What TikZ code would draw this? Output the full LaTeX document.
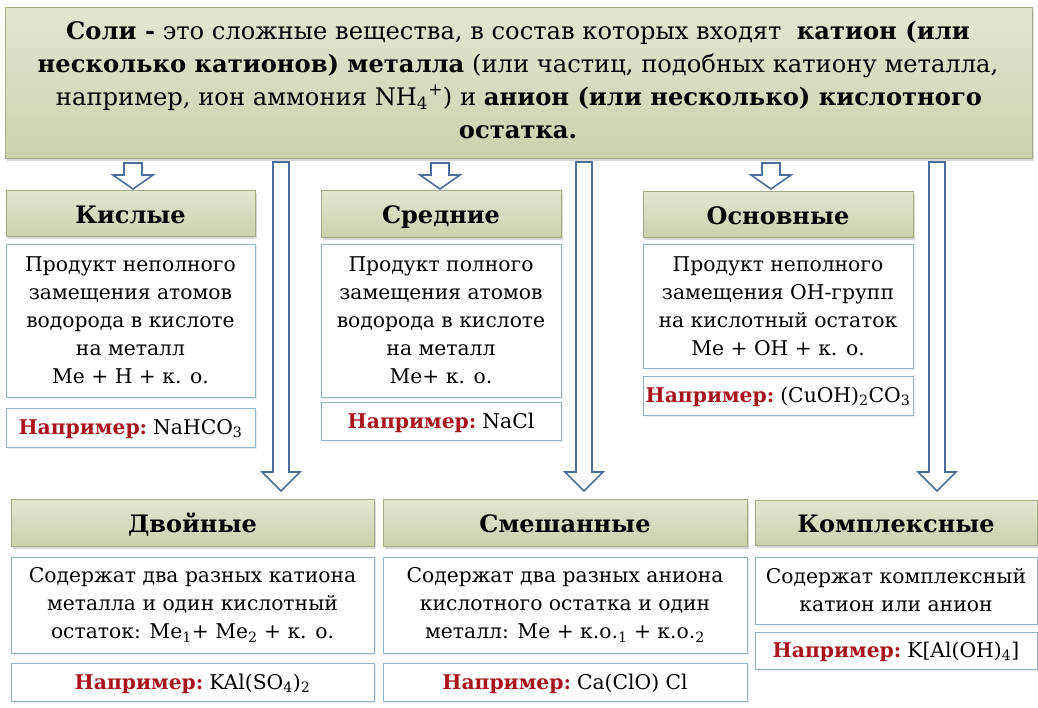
\documentclass[tikz,border=0pt]{standalone}
\usepackage{fontspec}
\setmainfont{DejaVu Serif}
\usetikzlibrary{shadows}
\definecolor{olTop}{HTML}{E2E6D0}
\definecolor{olBot}{HTML}{CBD2AD}
\definecolor{olLine}{HTML}{A2AC84}
\definecolor{bxLine}{HTML}{8FB5CA}
\definecolor{arLine}{HTML}{4E6C98}
\definecolor{exRed}{HTML}{A8141C}
\newcommand{\ex}[1]{{\bfseries\color{exRed}Например:}\hspace{6pt}#1}
\newcommand{\blockarr}[6]{%
  \draw[arrsty] ({#1-#4},#2) -- ({#1+#4},#2) -- ({#1+#4},{#3-#6}) -- ({#1+#5},{#3-#6})
   -- (#1,#3) -- ({#1-#5},{#3-#6}) -- ({#1-#4},{#3-#6}) -- cycle;}
\begin{document}
\begin{tikzpicture}[x=1pt,y=-1pt,
  shad/.style={drop shadow={opacity=0.3,shadow xshift=2pt,shadow yshift=-2.5pt}},
  topbox/.style={draw=olLine,line width=1pt,top color=olTop,bottom color=olBot,shad,
     minimum width=1027pt,minimum height=151pt,inner sep=0pt},
  hdr/.style={draw=olLine,line width=1pt,top color=olTop,bottom color=olBot,shad,
     inner sep=0pt,text height=21pt,text depth=1pt,font=\fontsize{24}{30}\selectfont\bfseries},
  desc/.style={draw=bxLine,line width=1pt,fill=white,
     drop shadow={opacity=0.15,shadow xshift=1.5pt,shadow yshift=-2pt},
     inner sep=0pt,align=center,font=\fontsize{20.3}{28}\selectfont},
  exbox/.style={desc,text height=16pt,text depth=2pt},
  tline/.style={anchor=base,inner sep=0pt,font=\fontsize{24.2}{33}\selectfont},
  arrsty/.style={draw=arLine,line width=1.6pt,fill=white,line join=miter}
]
\useasboundingbox (0,0) rectangle (1038,707);
\fill[white] (0,0) rectangle (1038,707);

% top box
\node[topbox] (top) at (518.5,82.5) {};
\node[tline] (t1) at (518,39) {\textbf{Соли -} это сложные вещества, в состав которых входят \ \textbf{катион (или}};
\node[tline] (t2) at (518,72) {\textbf{несколько катионов) металла} (или частиц, подобных катиону металла,};
\node[tline] (t3) at (519,105) {например, ион аммония NH\textsubscript{4}\textsuperscript{+}) и \textbf{анион (или несколько) кислотного}};
\node[tline] (t4) at (518,138) {\textbf{остатка.}};

% arrows (drawn before boxes)
\blockarr{133}{163}{189}{9}{20}{14}
\blockarr{440}{163}{189}{9}{20}{14}
\blockarr{771}{163}{189}{9}{20}{14}
\blockarr{281}{162}{491}{8}{19}{19}
\blockarr{584}{162}{491}{8}{19}{19}
\blockarr{937}{162}{491}{8}{19}{19}

% row 1
\node[hdr,minimum width=249pt,minimum height=46pt] (h1) at (130.5,213) {Кислые};
\node[desc,minimum width=249pt,minimum height=153pt] (d1) at (130.5,320.5)
  {Продукт неполного\\замещения атомов\\водорода в кислоте\\на металл\\Me + H + к. о.};
\node[exbox,minimum width=249pt,minimum height=39pt] (e1) at (130.5,427.5) {\ex{NaHCO\textsubscript{3}}};

\node[hdr,minimum width=240pt,minimum height=47pt] (h2) at (441,213.5) {Средние};
\node[desc,minimum width=240pt,minimum height=153pt] (d2) at (441,320.5)
  {Продукт полного\\замещения атомов\\водорода в кислоте\\на металл\\Me+ к. о.};
\node[exbox,minimum width=240pt,minimum height=38pt] (e2) at (441,421) {\ex{NaCl}};

\node[hdr,minimum width=270pt,minimum height=46pt] (h3) at (778,214) {Основные};
\node[desc,minimum width=270pt,minimum height=124pt] (d3) at (778,306)
  {Продукт неполного\\замещения OH-групп\\на кислотный остаток\\Me + OH + к. о.};
\node[exbox,minimum width=270pt,minimum height=39pt] (e3) at (778,395.5) {\ex{(CuOH)\textsubscript{2}CO\textsubscript{3}}};

% row 2
\node[hdr,minimum width=363pt,minimum height=47pt] (h4) at (192.5,522.5) {Двойные};
\node[desc,minimum width=363pt,minimum height=96pt] (d4) at (192.5,605)
  {Содержат два разных катиона\\металла и один кислотный\\остаток: Me\textsubscript{1}+ Me\textsubscript{2} + к. о.};
\node[exbox,minimum width=363pt,minimum height=38pt] (e4) at (192.5,682) {\ex{KAl(SO\textsubscript{4})\textsubscript{2}}};

\node[hdr,minimum width=364pt,minimum height=47pt] (h5) at (565,522.5) {Смешанные};
\node[desc,minimum width=364pt,minimum height=96pt] (d5) at (565,605)
  {Содержат два разных аниона\\кислотного остатка и один\\металл: Me + к.о.\textsubscript{1} + к.о.\textsubscript{2}};
\node[exbox,minimum width=364pt,minimum height=38pt] (e5) at (565,682) {\ex{Ca(ClO) Cl}};

\node[hdr,minimum width=282pt,minimum height=45pt] (h6) at (896,522.5) {Комплексные};
\node[desc,minimum width=282pt,minimum height=67pt] (d6) at (896,590.5)
  {Содержат комплексный\\катион или анион};
\node[exbox,minimum width=282pt,minimum height=37pt] (e6) at (896,650.5) {\ex{K[Al(OH)\textsubscript{4}]}};
\end{tikzpicture}
\end{document}
